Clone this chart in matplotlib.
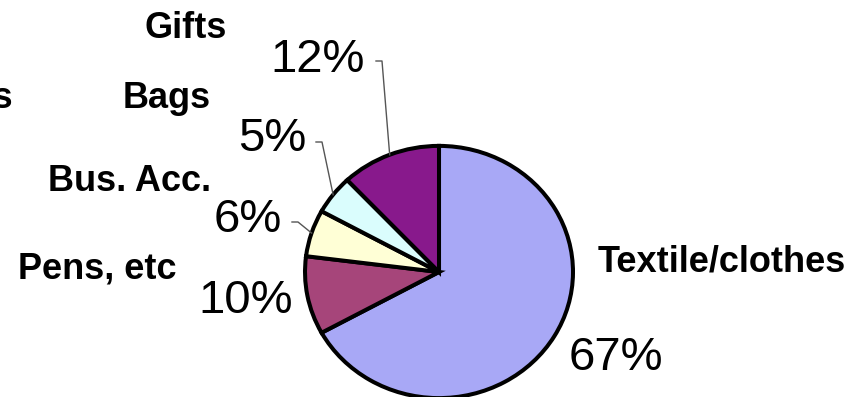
import numpy as np
import matplotlib.pyplot as plt
from matplotlib.lines import Line2D

plt.rcParams['font.family'] = ['Liberation Sans', 'DejaVu Sans']

W, H = 854, 397

# category shares, clockwise from 12 o'clock
categories = ['Textile/clothes', 'Pens, etc', 'Bus. Acc.', 'Bags', 'Gifts']
shares = [67, 10, 6, 5, 12]
colors = ['#A8A8F6', '#A6457A', '#FFFFD6', '#DAFDFD', '#88198C']


def px(x, y):
    # pixel position -> figure fraction
    return x / W, 1 - y / H


fig = plt.figure(figsize=(W / 100, H / 100), dpi=100)
fig.patch.set_facecolor('white')

# pie axes, slightly wider than tall so the pie comes out as an ellipse
l, t, r, b = 303, 144, 575, 400
ax = fig.add_axes([l / W, 1 - b / H, (r - l) / W, (b - t) / H])
wedges, _ = ax.pie(shares, colors=colors, startangle=90, counterclock=False,
                   radius=1.0, wedgeprops=dict(edgecolor='black', linewidth=2.9))
ax.set_aspect('auto')
ax.set_xlim(-1.015, 1.015)
ax.set_ylim(-1.015, 1.015)
ax.axis('off')

# category names
name_pos = {
    'Textile/clothes': (722, 262),
    'Pens, etc': (97, 269),
    'Bus. Acc.': (130, 181),
    'Bags': (167, 98),
    'Gifts': (186, 28),
}
for name, (x, y) in name_pos.items():
    fig.text(*px(x, y), name, fontsize=26, fontweight='bold',
             ha='center', va='center')
fig.text(*px(13, 98), 'Others', fontsize=26, fontweight='bold',
         ha='right', va='center')

# percentage labels; some get a leader line to the slice
pct_pos = {
    'Textile/clothes': (616, 358),
    'Pens, etc': (246, 301),
    'Bus. Acc.': (248, 220),
    'Bags': (272, 139),
    'Gifts': (318, 60),
}
leader_start = {
    'Bus. Acc.': (292, 222),
    'Bags': (316, 142),
    'Gifts': (376, 61),
}

to_fig = fig.transFigure.inverted()
for name, share, w in zip(categories, shares, wedges):
    x, y = pct_pos[name]
    fig.text(*px(x, y), f'{share}%', fontsize=34, ha='center', va='center')
    if name in leader_start:
        sx, sy = leader_start[name]
        mid = np.deg2rad((w.theta1 + w.theta2) / 2)
        ex, ey = to_fig.transform(ax.transData.transform((np.cos(mid), np.sin(mid))))
        x0, y0 = px(sx, sy)
        x1, _ = px(sx + 6, sy)
        fig.add_artist(Line2D([x0, x1, ex], [y0, y0, ey], color='#555555',
                              linewidth=1.0, transform=fig.transFigure))

fig.savefig('out.png', dpi=100)
